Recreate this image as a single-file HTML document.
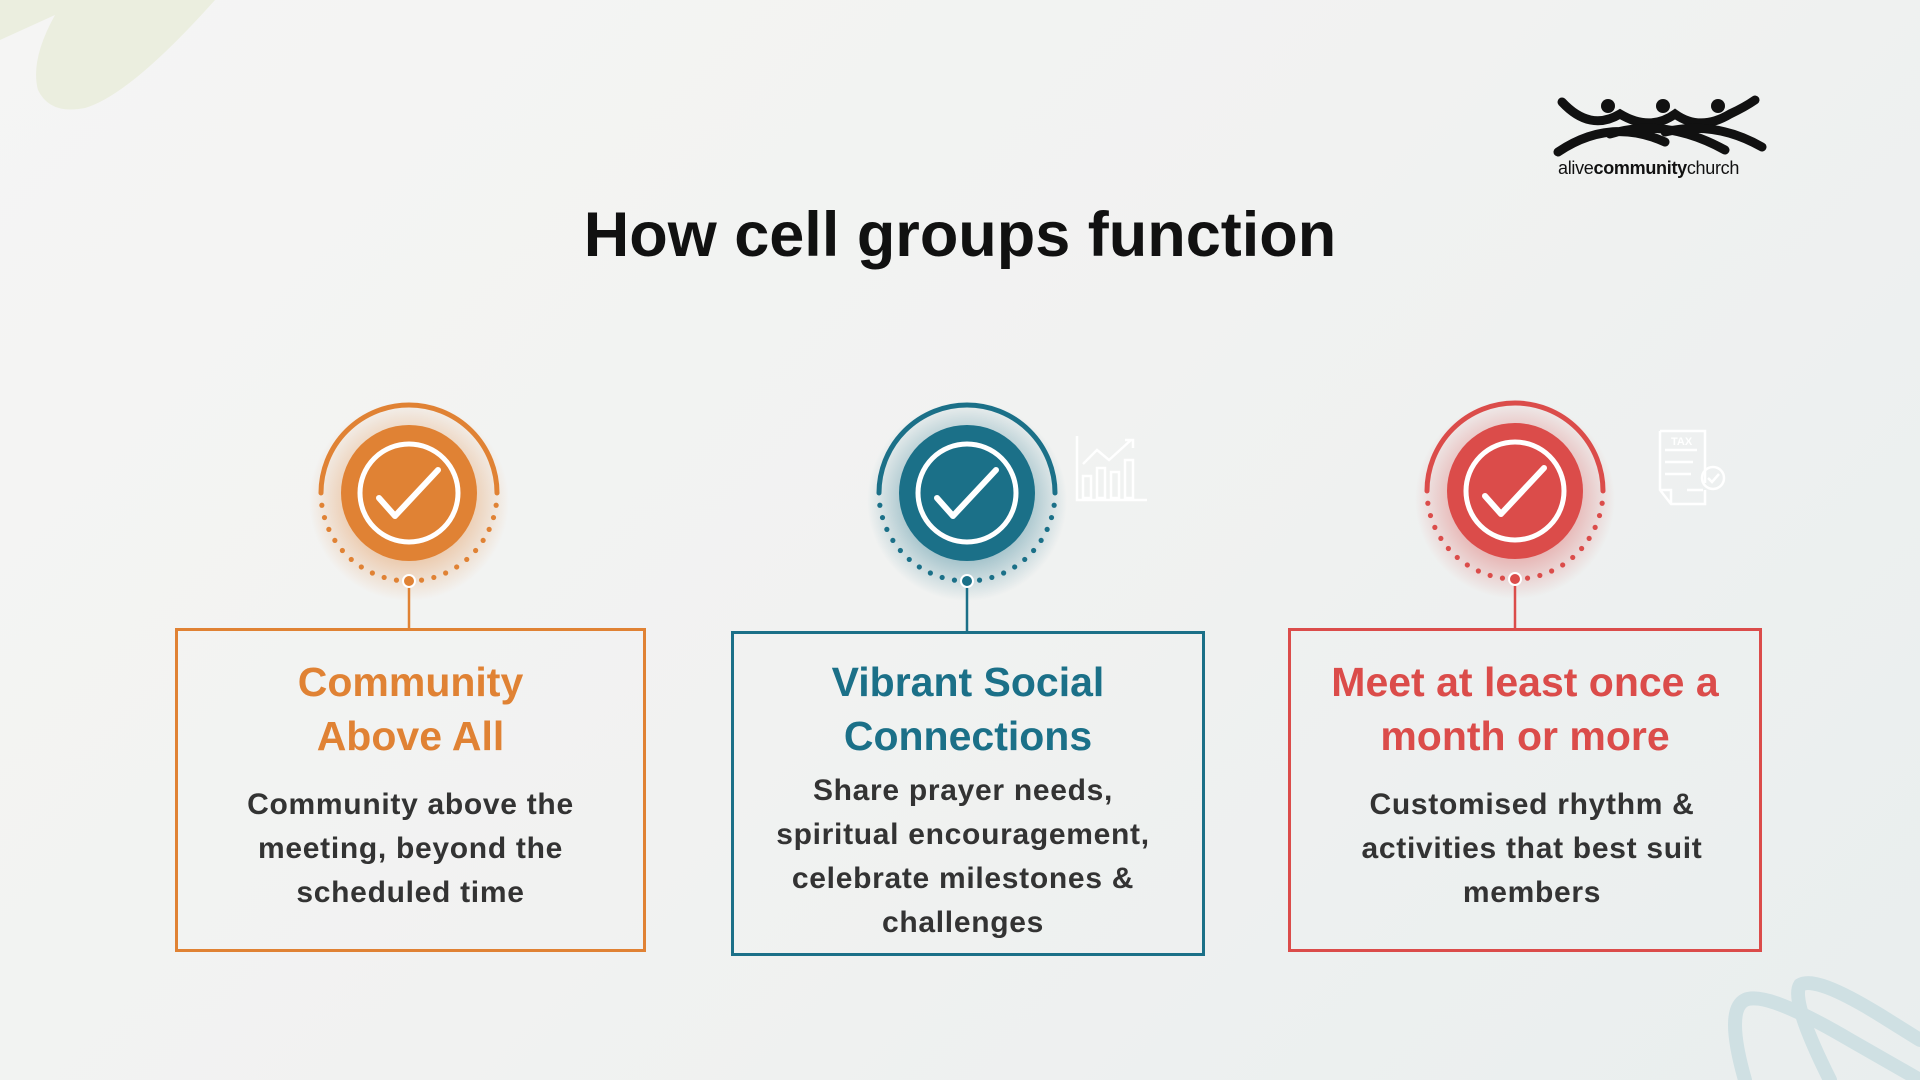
<!DOCTYPE html>
<html><head><meta charset="utf-8"><style>
body{margin:0;width:1920px;height:1080px;overflow:hidden;background:linear-gradient(135deg,#f5f5f4 0%,#f1f2f1 50%,#e9eeee 100%);font-family:"Liberation Sans",sans-serif;position:relative}
.t{position:absolute;text-align:center;white-space:nowrap}
.box{position:absolute;border:3px solid;box-sizing:border-box}
.h{font-weight:bold;font-size:41px;line-height:54px}
.b{font-weight:bold;font-size:30px;line-height:44px;color:#333;letter-spacing:0.7px}
</style></head><body>
<svg width="1920" height="1080" style="position:absolute;left:0;top:0">
<defs>
<radialGradient id="go"><stop offset="0.6" stop-color="#e08234" stop-opacity="0.35"/><stop offset="1" stop-color="#e08234" stop-opacity="0"/></radialGradient>
<radialGradient id="gt"><stop offset="0.6" stop-color="#1b7088" stop-opacity="0.35"/><stop offset="1" stop-color="#1b7088" stop-opacity="0"/></radialGradient>
<radialGradient id="gr"><stop offset="0.6" stop-color="#db4c4a" stop-opacity="0.35"/><stop offset="1" stop-color="#db4c4a" stop-opacity="0"/></radialGradient>
</defs>
<path d="M0,40 L55,15 Q30,60 38,90 Q50,115 85,108 Q130,95 215,0 L0,0Z" fill="#ebeedf"/>
<path d="M1745,1080 Q1725,1010 1745,1000 Q1765,990 1850,1040 L1920,1080" fill="none" stroke="#cfe0e3" stroke-width="14" stroke-linecap="round"/>
<path d="M1830,1080 Q1790,1000 1800,985 Q1815,975 1880,1015 L1920,1040" fill="none" stroke="#cfe0e3" stroke-width="14" stroke-linecap="round"/>
</svg>
<svg width="1920" height="1080" style="position:absolute;left:0;top:0" id="s"></svg>
<div class="t" style="left:0;width:1920px;top:199px;font-size:63px;font-weight:bold;color:#111">How cell groups function</div>
<div class="t" style="left:1558px;top:158px;font-size:18px;color:#111;letter-spacing:-0.3px">alive<b>community</b>church</div>
<svg width="220" height="70" style="position:absolute;left:1550px;top:92px" viewBox="0 0 220 70">
<g fill="none" stroke="#111" stroke-width="9" stroke-linecap="round">
<path d="M12,10 Q40,40 70,22 Q100,40 125,22 Q150,40 180,22 Q195,15 205,8"/>
<path d="M8,60 Q60,25 115,50 M60,42 Q115,25 175,58 M115,40 Q165,28 212,55"/>
</g>
<circle cx="58" cy="14" r="7" fill="#111"/><circle cx="113" cy="14" r="7" fill="#111"/><circle cx="168" cy="14" r="7" fill="#111"/>
</svg>
<svg width="80" height="70" style="position:absolute;left:1075px;top:436px" fill="none" stroke="#fff" stroke-width="2.5">
<path d="M2,0 V64 H72"/><rect x="8" y="40" width="8" height="22"/><rect x="22" y="32" width="8" height="30"/><rect x="36" y="36" width="8" height="26"/><rect x="50" y="24" width="8" height="38"/><path d="M8,28 L22,14 L34,24 L56,4 M50,4 H58 V12"/>
</svg>
<svg width="80" height="85" style="position:absolute;left:1657px;top:428px" fill="none" stroke="#fff" stroke-width="2.5">
<path d="M3,3 H48 V55 M3,3 V62 L14,76 H48 V62 M3,62 H14 V76"/><path d="M8,22 H40 M8,34 H36 M8,46 H34 M30,62 H46"/><circle cx="56" cy="50" r="11"/><path d="M51,50 l4,4 7,-8"/><text x="14" y="17" fill="#fff" stroke="none" font-size="11" font-family="Liberation Sans" font-weight="bold">TAX</text>
</svg>
<div class="box" style="left:175px;top:628px;width:471px;height:324px;border-color:#e08234"></div>
<div class="box" style="left:731px;top:631px;width:474px;height:325px;border-color:#1b7088"></div>
<div class="box" style="left:1288px;top:628px;width:474px;height:324px;border-color:#db4c4a"></div>
<div class="t h" style="left:175px;width:471px;top:655px;color:#e08234">Community<br>Above All</div>
<div class="t b" style="left:175px;width:471px;top:783px">Community above the<br>meeting, beyond the<br>scheduled time</div>
<div class="t h" style="left:731px;width:474px;top:655px;color:#1b7088">Vibrant Social<br>Connections</div>
<div class="t b" style="left:726px;width:474px;top:769px">Share prayer needs,<br>spiritual encouragement,<br>celebrate milestones &amp;<br>challenges</div>
<div class="t h" style="left:1288px;width:474px;top:655px;color:#db4c4a">Meet at least once a<br>month or more</div>
<div class="t b" style="left:1295px;width:474px;top:783px">Customised rhythm &amp;<br>activities that best suit<br>members</div>
<script>
var s=document.getElementById('s'),h='';
[[409,493,'#e08234','go',628],[967,493,'#1b7088','gt',631],[1515,491,'#db4c4a','gr',628]].forEach(function(c){
var x=c[0],y=c[1],col=c[2],R=88;
h+='<circle cx="'+x+'" cy="'+(y+8)+'" r="100" fill="url(#'+c[3]+')"/>';
h+='<path d="M'+(x-R)+','+y+' A'+R+','+R+' 0 0 1 '+(x+R)+','+y+'" fill="none" stroke="'+col+'" stroke-width="5" stroke-linecap="round"/>';
for(var a=8;a<=172;a+=8.2){var r=a*Math.PI/180;if(Math.abs(a-90)<6)continue;h+='<circle cx="'+(x+R*Math.cos(r))+'" cy="'+(y+R*Math.sin(r))+'" r="2.6" fill="'+col+'"/>';}
h+='<line x1="'+x+'" y1="'+(y+R)+'" x2="'+x+'" y2="'+c[4]+'" stroke="'+col+'" stroke-width="2.5"/>';
h+='<circle cx="'+x+'" cy="'+(y+R)+'" r="6" fill="'+col+'" stroke="#fff" stroke-width="2"/>';
h+='<circle cx="'+x+'" cy="'+y+'" r="68" fill="'+col+'"/>';
h+='<circle cx="'+x+'" cy="'+y+'" r="49" fill="none" stroke="#fff" stroke-width="5"/>';
h+='<path d="M'+(x-30)+','+(y+5)+' L'+(x-14)+','+(y+23)+' L'+(x+29)+','+(y-23)+'" fill="none" stroke="#fff" stroke-width="6" stroke-linecap="round" stroke-linejoin="round"/>';
});
s.innerHTML=h;
</script>
</body></html>
